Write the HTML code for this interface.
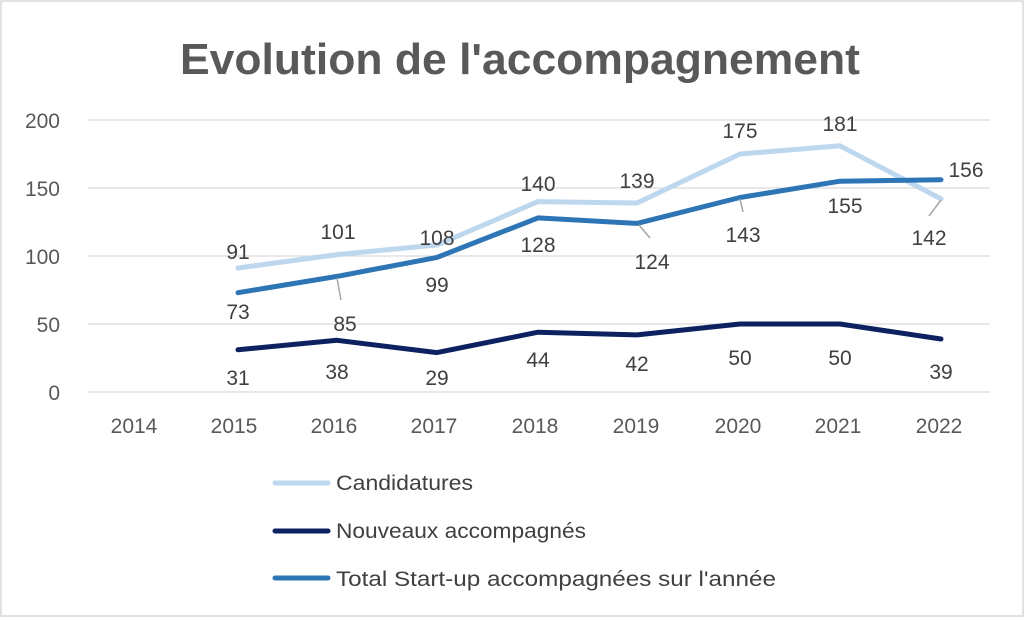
<!DOCTYPE html>
<html><head><meta charset="utf-8"><style>
html,body{margin:0;padding:0;background:#fff}
svg{display:block}
text{font-family:"Liberation Sans",sans-serif}
</style></head><body>
<svg width="1024" height="617" viewBox="0 0 1024 617">
<rect x="1" y="1" width="1022" height="615" fill="#fff" stroke="#d9d9d9" stroke-width="1.5"/>
<text x="180" y="74" font-size="44" font-weight="bold" fill="#595959" textLength="680" lengthAdjust="spacingAndGlyphs">Evolution de l'accompagnement</text>
<g stroke="#d9d9d9" stroke-width="1.3">
<line x1="88" x2="990" y1="120" y2="120"/><line x1="88" x2="990" y1="188" y2="188"/><line x1="88" x2="990" y1="256" y2="256"/><line x1="88" x2="990" y1="324" y2="324"/><line x1="88" x2="990" y1="392" y2="392"/>
</g>
<g font-size="21" fill="#595959" text-anchor="end">
<text x="60" y="128">200</text><text x="60" y="196">150</text><text x="60" y="264">100</text><text x="60" y="332">50</text><text x="60" y="400">0</text>
</g>
<g font-size="21" fill="#595959" text-anchor="middle">
<text x="134" y="433">2014</text><text x="234" y="433">2015</text><text x="334" y="433">2016</text><text x="434" y="433">2017</text><text x="535" y="433">2018</text><text x="636" y="433">2019</text><text x="738" y="433">2020</text><text x="838" y="433">2021</text><text x="939" y="433">2022</text>
</g>
<g fill="none" stroke-width="5" stroke-linejoin="round" stroke-linecap="round">
<polyline stroke="#bdd7ee" points="238,268 337,254.6 437,245 538,201.6 637,203 740,154 840,145.8 941,198.9"/>
<polyline stroke="#2e75b6" points="238,292.7 337,276.4 437,257.4 538,217.9 637,223.4 740,197.5 840,181.2 941,179.8"/>
<polyline stroke="#0b2160" points="238,349.8 337,340.3 437,352.6 538,332.2 637,334.9 740,324 840,324 941,339"/>
</g>
<g stroke="#a6a6a6" stroke-width="1.5">
<line x1="337" y1="278" x2="341" y2="300"/>
<line x1="639" y1="225" x2="650" y2="238"/>
<line x1="740" y1="199" x2="743" y2="212"/>
<line x1="941" y1="200" x2="929" y2="216"/>
</g>
<g font-size="21" fill="#404040" text-anchor="middle">
<text x="238" y="259">91</text><text x="338" y="239">101</text><text x="437" y="245">108</text><text x="538" y="191">140</text><text x="637" y="188">139</text><text x="740" y="138">175</text><text x="840" y="131">181</text><text x="929" y="245">142</text>
<text x="238" y="319">73</text><text x="345" y="331">85</text><text x="437" y="292">99</text><text x="538" y="252">128</text><text x="652" y="269">124</text><text x="743" y="242">143</text><text x="845" y="213">155</text><text x="966" y="177">156</text>
<text x="238" y="385">31</text><text x="337" y="379">38</text><text x="437" y="385">29</text><text x="538" y="367">44</text><text x="637" y="371">42</text><text x="740" y="365">50</text><text x="840" y="365">50</text><text x="941" y="379">39</text>
</g>
<g stroke-width="5" stroke-linecap="round">
<line x1="275" x2="328" y1="483" y2="483" stroke="#bdd7ee"/>
<line x1="275" x2="328" y1="531" y2="531" stroke="#0b2160"/>
<line x1="275" x2="328" y1="578" y2="578" stroke="#2e75b6"/>
</g>
<g font-size="21" fill="#404040">
<text x="336" y="490" textLength="137" lengthAdjust="spacingAndGlyphs">Candidatures</text>
<text x="336" y="538" textLength="250" lengthAdjust="spacingAndGlyphs">Nouveaux accompagnés</text>
<text x="336" y="586" textLength="440" lengthAdjust="spacingAndGlyphs">Total Start-up accompagnées sur l'année</text>
</g>
</svg>
</body></html>
